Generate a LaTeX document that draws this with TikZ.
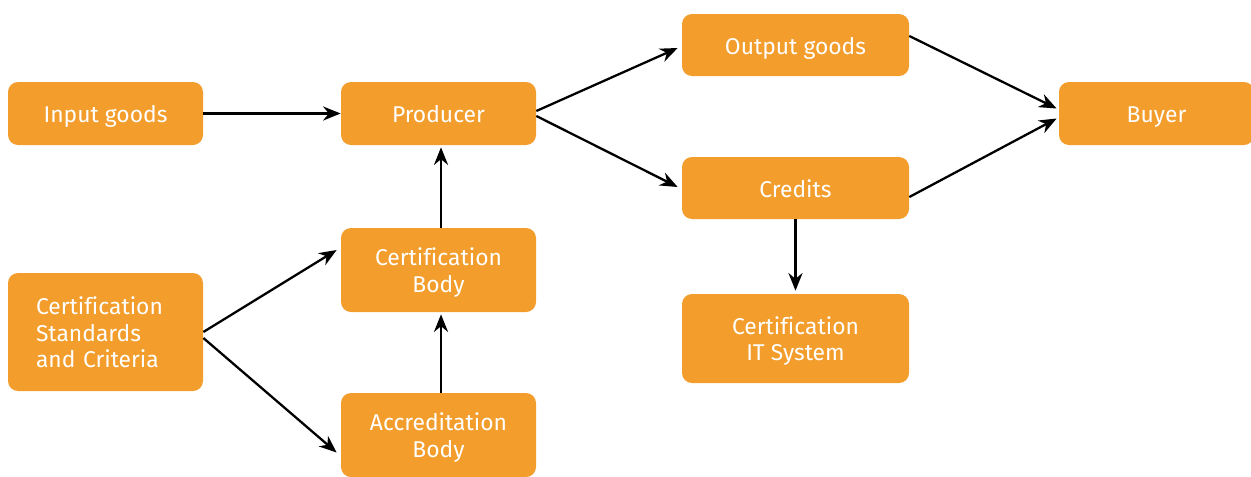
\documentclass[tikz,border=0pt]{standalone}
\usepackage{fontspec}
\setmainfont[Ligatures=NoCommon]{Fira Sans}
\usepackage{xcolor}
\usetikzlibrary{arrows.meta}
\definecolor{boxorange}{HTML}{F29D2C}
\tikzset{>={Stealth[length=10pt,width=8pt]}}
\tikzset{
    box/.style={fill=boxorange, rounded corners=0.2cm, text=white,
        font=\fontsize{13}{15.2}\selectfont, align=center, inner sep=0pt,
        text depth=0pt},
    onebox/.style={box, text height=0.69em+3.4pt},
    twobox/.style={box, text height=0.69em+18.6pt},
    flow/.style={->, line width=1.3pt},
}

\begin{document}
\begin{tikzpicture}
    \useasboundingbox (0,0) rectangle (25.02,-9.52);
    % top row
    \node[onebox, minimum width=3.9cm, minimum height=1.26cm] (input) at (2.11,-2.27) {Input goods};
    \node[onebox, minimum width=3.9cm, minimum height=1.26cm] (producer) at (8.77,-2.27) {Producer};
    \node[onebox, minimum width=4.54cm, minimum height=1.24cm] (output) at (15.91,-0.90) {Output goods};
    \node[onebox, minimum width=3.9cm, minimum height=1.26cm] (buyer) at (23.13,-2.27) {Buyer};
    \node[onebox, minimum width=4.54cm, minimum height=1.24cm] (credits) at (15.91,-3.76) {Credits};
    % certification side
    \node[twobox, minimum width=4.54cm, minimum height=1.78cm] (itsys) at (15.91,-6.77) {Certification\\IT System};
    \node[box, text height=0.69em+3.4pt, text depth=30.4pt, minimum width=3.9cm, minimum height=2.36cm, text width=2.78cm, align=left] (standards) at (2.11,-6.64) {Certification\\Standards\\and Criteria};
    \node[twobox, minimum width=3.9cm, minimum height=1.68cm] (certbody) at (8.77,-5.40) {Certification\\Body};
    \node[twobox, minimum width=3.9cm, minimum height=1.68cm] (accbody) at (8.77,-8.70) {Accreditation\\Body};

    \draw[flow] (input) -- (producer);
    \draw[flow] ([yshift=0.05cm]producer.east) -- ([xshift=-0.08cm,yshift=-0.06cm]output.west);
    \draw[flow] ([yshift=-0.05cm]producer.east) -- ([xshift=-0.08cm,yshift=0.02cm]credits.west);
    \draw[flow] ([yshift=0.18cm]output.east) -- ([xshift=-0.04cm,yshift=0.1cm]buyer.west);
    \draw[flow] ([yshift=-0.18cm]credits.east) -- ([xshift=-0.04cm,yshift=-0.1cm]buyer.west);
    \draw[flow] (credits.south) -- ([yshift=0.06cm]itsys.north);
    \draw[flow] ([xshift=0.05cm]certbody.north) -- ([xshift=0.05cm,yshift=-0.04cm]producer.south);
    \draw[flow] ([xshift=0.05cm]accbody.north) -- ([xshift=0.05cm,yshift=-0.04cm]certbody.south);
    \draw[flow] ([yshift=0cm]standards.east) -- ([xshift=-0.08cm,yshift=0.4cm]certbody.west);
    \draw[flow] ([yshift=-0.12cm]standards.east) -- ([xshift=-0.08cm,yshift=-0.35cm]accbody.west);
\end{tikzpicture}
\end{document}
